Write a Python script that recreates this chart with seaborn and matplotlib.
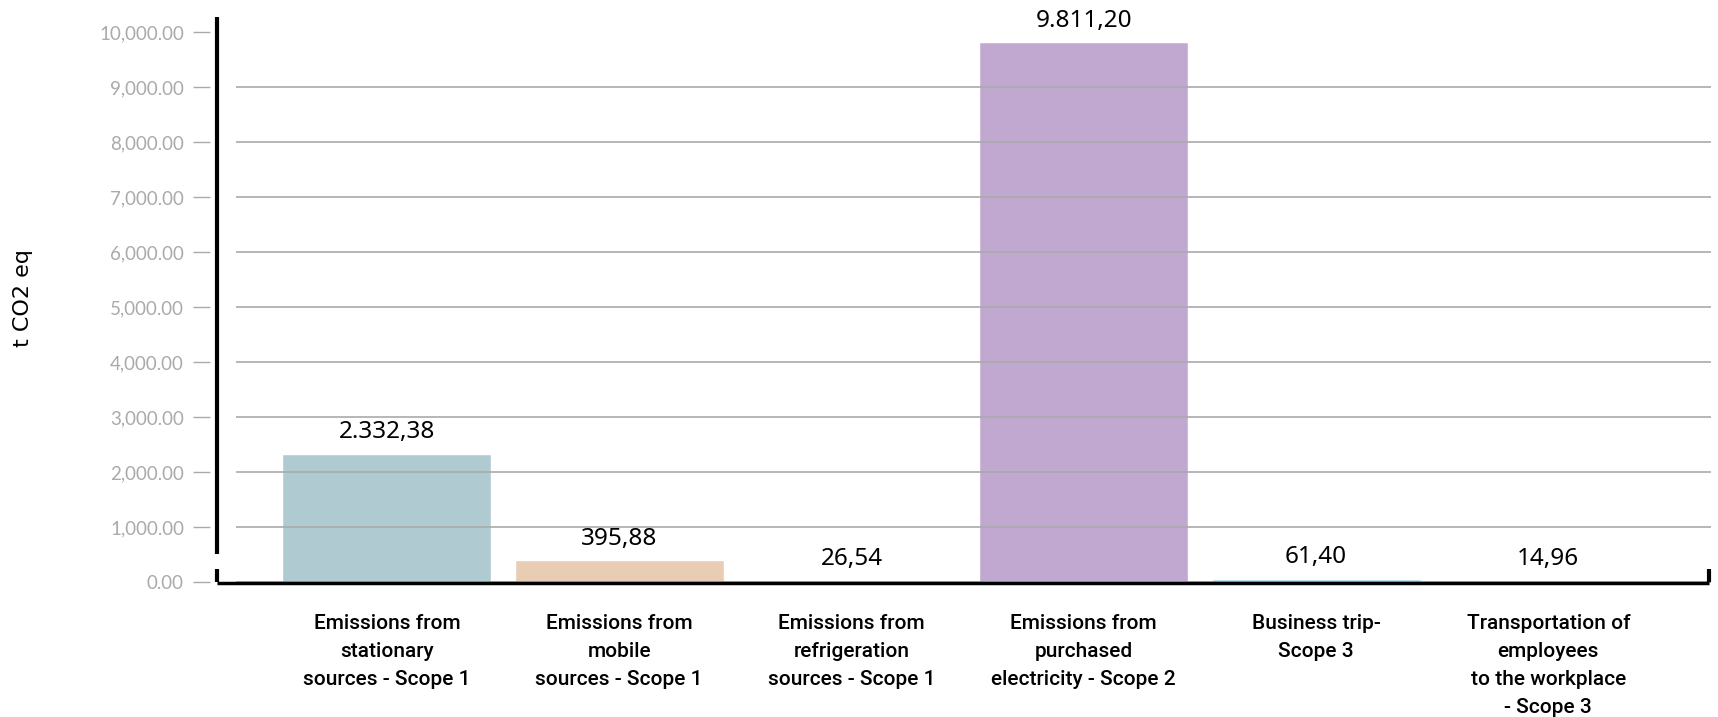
import numpy as np
import pandas as pd
import seaborn as sns
import matplotlib.pyplot as plt

# --- data ---
categories = [
    "Emissions from\nstationary\nsources - Scope 1",
    "Emissions from\nmobile\nsources - Scope 1",
    "Emissions from\nrefrigeration\nsources - Scope 1",
    "Emissions from\npurchased\nelectricity - Scope 2",
    "Business trip-\nScope 3",
    "Transportation of\nemployees\nto the workplace\n- Scope 3",
]
emissions = [2332.38, 395.88, 26.54, 9811.20, 61.40, 14.96]
bar_colors = ["#afcbd1", "#e8ccb4", "#b6d0a0", "#c1a8d0", "#a6dbea", "#edd59e"]
y_ticks = [0, 1000, 2000, 3000, 4000, 5000, 6000, 7000, 8000, 9000, 10000]
y_label = "t CO2 eq"

def euro_fmt(v):
    return f"{v:,.2f}".replace(",", "X").replace(".", ",").replace("X", ".")

# --- style ---
sns.set_theme(style="white")
plt.rcParams['font.family'] = ['DejaVu Sans']

df = pd.DataFrame({"category": categories, "value": emissions})

fig = plt.figure(figsize=(17.18, 7.17), dpi=100)
ax = fig.add_axes([0.1222, 0.1806, 0.8737, 0.7978])

sns.barplot(data=df, x="category", y="value", hue="category", palette=bar_colors,
            legend=False, width=0.9, saturation=1, ax=ax, zorder=2)

x0, x1 = -0.762, 5.70
ax.set_xlim(x0, x1)
ax.set_ylim(-100, 10300)
for s in ax.spines.values():
    s.set_visible(False)

# gridlines (drawn over the bars, like the original)
ax.hlines(y_ticks[:-1], -0.65, x1, color="#aaaaaa", lw=1.2, zorder=3)

# bracket-like axis lines
spine_x = -0.732
ax.vlines(spine_x, 510, 10270, color="black", lw=3, zorder=5, clip_on=False)
ax.vlines([spine_x, x1 - 0.01], 0, 240, color="black", lw=3, zorder=5, clip_on=False)
ax.hlines(-20, spine_x, x1 - 0.01, color="black", lw=2.5, zorder=5, clip_on=False)

# y axis
ax.set_yticks(y_ticks)
ax.set_yticklabels([f"{t:,.2f}" for t in y_ticks], fontfamily="Lato")
ax.tick_params(axis="y", left=True, length=12.2, width=1, color="#aaaaaa", pad=6.5,
               labelcolor="#aaaaaa", labelsize=13.5)
ax.set_ylabel(y_label, fontsize=16, color="black")
ax.yaxis.set_label_coords(-0.118, 0.506)

# x axis
ax.set_xlabel("")
ax.tick_params(axis="x", length=0, pad=19)
for lbl in ax.get_xticklabels():
    lbl.set_fontfamily("Roboto")
    lbl.set_fontweight("medium")
    lbl.set_fontsize(15)
    lbl.set_linespacing(1.6)
    lbl.set_color("black")
    lbl.set_verticalalignment("top")

# value labels
for i, v in enumerate(emissions):
    ax.annotate(euro_fmt(v), (i, v), xytext=(0, 7), textcoords="offset points",
                ha="center", va="bottom", fontsize=17.5, fontfamily="Noto Sans",
                color="black")

fig.savefig("out.png", dpi=100, facecolor="white")
